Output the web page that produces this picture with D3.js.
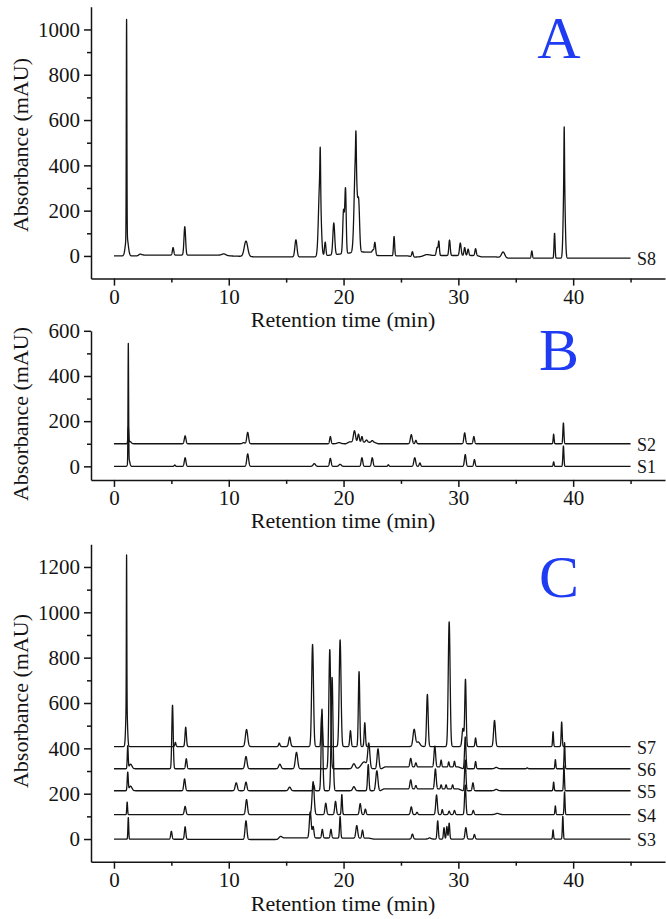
<!DOCTYPE html>
<html><head><meta charset="utf-8">
<script src="https://cdn.jsdelivr.net/npm/d3@7"></script>
<style>
html,body{margin:0;padding:0;background:#fff;}
svg{display:block;}
</style></head><body>
<svg id="chart" width="666" height="919"></svg>
<script>
// ---------------- data ----------------
const xTickValues = [0, 10, 20, 30, 40];
const xMinorTicks = [5, 15, 25, 35, 45];
const yTicksA = [0, 200, 400, 600, 800, 1000];
const yMinorA = [100, 300, 500, 700, 900];
const yTicksB = [0, 200, 400, 600];
const yMinorB = [100, 300, 500];
const yTicksC = [0, 200, 400, 600, 800, 1000, 1200];
const yMinorC = [100, 300, 500, 700, 900, 1100];
const panelLetters = ["A", "B", "C"];
const xTitle = "Retention time (min)";
const yTitle = "Absorbance (mAU)";
const namesA = ["S8"];
const namesB = ["S1", "S2"];
const namesC = ["S3", "S4", "S5", "S6", "S7"];
const offsetsA = [0];
const offsetsB = [0, 100];
const offsetsC = [0, 108, 213, 310, 408];

// peaks: [retention time (min), height (mAU), width sigma (min)]
const peaksS8 = [
  [1.1, 960, 0.025], [1.12, 85, 0.12], [2.27, 7, 0.12], [5.15, 33, 0.06], [6.17, 125, 0.07],
  [9.58, 6, 0.15], [11.5, 68, 0.15], [15.85, 75, 0.09], [17.93, 330, 0.11], [17.97, 170, 0.03],
  [18.4, 60, 0.06], [19.15, 140, 0.08], [20.0, 190, 0.07], [20.17, 280, 0.06],
  [21.05, 420, 0.12], [21.08, 125, 0.03], [21.32, 200, 0.08], [22.55, 10, 0.06], [22.73, 50, 0.06],
  [24.4, 85, 0.05], [26.0, 22, 0.06], [27.2, 7, 0.25], [28.15, 35, 0.07], [28.3, 60, 0.05],
  [29.23, 68, 0.06], [30.17, 55, 0.07], [30.55, 35, 0.06], [30.85, 28, 0.06], [31.5, 30, 0.06],
  [33.9, 25, 0.14], [36.4, 32, 0.05], [38.38, 110, 0.045], [39.22, 360, 0.08], [39.22, 220, 0.025]
];
const baselineS8 = [[0,0],[2.2,0],[2.5,4],[9.4,4],[10.2,0],[12.3,-4],[17.5,-4],[21.4,18],[22.6,16],[22.9,2],[25.6,0],[26.2,-5],[27.0,-3],[27.6,2],[31.6,2],[32,-4],[33.2,-4],[34.4,-10],[45,-10]];

const peaksS1 = [
  [1.25, 520, 0.025], [1.3, 30, 0.08], [5.3, 6, 0.05], [6.2, 38, 0.07], [11.65, 55, 0.08],
  [17.45, 12, 0.1], [18.85, 35, 0.07], [19.7, 9, 0.1], [21.6, 38, 0.07], [22.5, 38, 0.07],
  [23.9, 7, 0.05], [26.2, 38, 0.08], [26.65, 15, 0.06], [30.6, 52, 0.07], [31.4, 30, 0.06],
  [38.3, 20, 0.04], [39.15, 90, 0.045]
];
const baselineS1 = [[0,0],[45,0]];
const peaksS2 = [
  [1.25, 70, 0.035], [1.4, 10, 0.1], [6.2, 35, 0.07], [11.3, 5, 0.1], [11.65, 50, 0.08],
  [18.85, 32, 0.06], [19.6, 5, 0.15], [20.95, 50, 0.09], [21.3, 35, 0.07], [21.6, 25, 0.06],
  [22.0, 10, 0.08], [22.5, 8, 0.08], [25.9, 40, 0.08], [26.3, 15, 0.06], [30.55, 48, 0.07],
  [31.35, 32, 0.06], [38.3, 42, 0.04], [39.15, 92, 0.045]
];
const baselineS2 = [[0,0],[20.2,0],[20.5,8],[22.7,6],[23,0],[45,0]];

const peaksS3 = [
  [1.25, 95, 0.035], [5.0, 35, 0.06], [6.2, 55, 0.06], [11.5, 82, 0.08], [14.5, 8, 0.12],
  [17.1, 115, 0.08], [17.35, 50, 0.07], [18.15, 38, 0.06], [18.9, 38, 0.06], [19.7, 95, 0.05],
  [21.15, 55, 0.08], [21.65, 35, 0.06], [26.0, 22, 0.07], [27.5, 5, 0.1], [28.2, 80, 0.055],
  [28.75, 50, 0.05], [29.0, 55, 0.05], [29.2, 70, 0.05], [30.65, 50, 0.07], [31.4, 20, 0.06],
  [38.25, 40, 0.04], [39.1, 100, 0.04]
];
const baselineS3 = [[0,0],[12,-2],[14.2,-2],[14.6,5],[22.2,4],[22.6,0],[45,0]];
const peaksS4 = [
  [1.15, 55, 0.035], [6.2, 36, 0.07], [11.55, 66, 0.08], [17.35, 145, 0.09], [18.45, 50, 0.07],
  [19.3, 58, 0.07], [19.85, 88, 0.045], [21.45, 48, 0.07], [21.9, 24, 0.06], [25.9, 34, 0.07],
  [26.4, 10, 0.06], [28.1, 86, 0.07], [28.6, 22, 0.05], [29.2, 15, 0.06], [29.66, 18, 0.06],
  [30.6, 130, 0.06], [31.3, 18, 0.06], [33.4, 5, 0.15], [38.45, 38, 0.04], [39.25, 100, 0.04]
];
const baselineS4 = [[0,0],[45,0]];
const peaksS5 = [
  [1.2, 80, 0.045], [1.45, 20, 0.12], [6.15, 52, 0.07], [10.65, 35, 0.09], [11.5, 38, 0.08],
  [15.3, 16, 0.1], [17.4, 25, 0.06], [18.12, 360, 0.07], [19.0, 500, 0.08], [20.9, 18, 0.1],
  [22.15, 115, 0.06], [22.9, 88, 0.09], [25.85, 40, 0.07], [26.3, 15, 0.06], [28.0, 88, 0.07],
  [28.5, 18, 0.05], [28.93, 18, 0.05], [29.5, 18, 0.05], [30.6, 135, 0.06], [31.27, 35, 0.06],
  [33.3, 6, 0.12], [38.3, 38, 0.04], [39.2, 110, 0.04]
];
const baselineS5 = [[0,0],[23.2,0],[23.5,8],[30,8],[30.4,0],[45,0]];
const peaksS6 = [
  [1.2, 100, 0.04], [1.45, 20, 0.12], [5.1, 280, 0.06], [6.3, 44, 0.06], [11.5, 54, 0.09],
  [14.45, 20, 0.1], [15.9, 72, 0.1], [18.8, 525, 0.08], [20.9, 22, 0.12], [21.8, 30, 0.25],
  [22.2, 105, 0.09], [23.0, 88, 0.08], [25.85, 38, 0.07], [26.3, 18, 0.06], [27.95, 92, 0.07],
  [28.5, 30, 0.05], [29.16, 22, 0.05], [29.66, 25, 0.05], [30.6, 140, 0.06], [31.5, 32, 0.05],
  [33.3, 6, 0.12], [36.0, 4, 0.05], [38.45, 40, 0.04], [39.25, 115, 0.04]
];
const baselineS6 = [[0,0],[23.3,0],[23.6,8],[30,8],[30.4,0],[45,0]];
const peaksS7 = [
  [1.1, 650, 0.02], [1.1, 195, 0.07], [5.35, 18, 0.05], [6.25, 85, 0.06], [11.55, 75, 0.1],
  [14.4, 15, 0.06], [15.3, 42, 0.08], [17.3, 450, 0.08], [18.1, 140, 0.06], [19.7, 470, 0.08],
  [20.6, 70, 0.06], [21.35, 330, 0.06], [21.85, 105, 0.055], [26.15, 75, 0.1], [26.5, 20, 0.15],
  [27.3, 230, 0.07], [29.2, 550, 0.08], [30.4, 80, 0.08], [30.62, 295, 0.06], [31.5, 38, 0.05],
  [33.15, 115, 0.08], [38.25, 65, 0.04], [39.0, 108, 0.045]
];
const baselineS7 = [[0,0],[45,0]];

const runStart = 0, runEnd = 45;

// ---------------- drawing ----------------
const FONT = "'Liberation Serif'";
const svg = d3.select("#chart");
const ink = "#141414";
const xRange = [91, 665];
const x = d3.scaleLinear().domain([-2, 48]).range(xRange);

const panels = [
  { letter: panelLetters[0], dom: [-100, 1100], rng: [278.6, 6.8], ticks: yTicksA, minor: yMinorA,
    names: namesA, offsets: offsetsA, peaks: [peaksS8], bases: [baselineS8], letterY: 58, yTitleY: 145, titleGap: 48 },
  { letter: panelLetters[1], dom: [-60, 600], rng: [479.9, 330.8], ticks: yTicksB, minor: yMinorB,
    names: namesB, offsets: offsetsB, peaks: [peaksS1, peaksS2], bases: [baselineS1, baselineS2], letterY: 370, yTitleY: 414, titleGap: 48 },
  { letter: panelLetters[2], dom: [-100, 1300], rng: [861.7, 544.3], ticks: yTicksC, minor: yMinorC,
    names: namesC, offsets: offsetsC, peaks: [peaksS3, peaksS4, peaksS5, peaksS6, peaksS7],
    bases: [baselineS3, baselineS4, baselineS5, baselineS6, baselineS7], letterY: 597, yTitleY: 701, titleGap: 49 }
];

function buildTrace(peaks, base, offset) {
  const bl = d3.scaleLinear().domain(base.map(d => d[0])).range(base.map(d => d[1])).clamp(true);
  const ts = d3.range(runStart, runEnd + 1e-9, 0.005).concat(peaks.map(p => p[0]));
  ts.sort((a, b) => a - b);
  return ts.map(t => {
    let v = offset + bl(t);
    for (const [rt, h, s] of peaks) {
      const z = (t - rt) / s;
      if (Math.abs(z) < 8) v += h * Math.exp(-0.5 * z * z);
    }
    return [t, v];
  });
}

function serif(sel, size) {
  return sel.style("font-family", FONT).style("font-size", size + "px");
}

panels.forEach(p => {
  const y = d3.scaleLinear().domain(p.dom).range(p.rng);
  const g = svg.append("g");

  const line = d3.line().x(d => x(d[0])).y(d => y(d[1]));
  p.peaks.forEach((pk, i) => {
    const data = buildTrace(pk, p.bases[i], p.offsets[i]);
    g.append("path").datum(data).attr("d", line)
      .attr("fill", "none").attr("stroke", ink).attr("stroke-width", 1.3)
      .attr("stroke-linejoin", "round");
    const last = data[data.length - 1];
    serif(g.append("text").attr("x", 637).attr("y", y(last[1]) + 1)
      .attr("dominant-baseline", "central").attr("fill", ink), 18).text(p.names[i]);
  });

  const yAxisPos = p.rng[0];
  const xa = g.append("g").attr("transform", `translate(0,${yAxisPos})`)
    .call(d3.axisBottom(x).tickValues(xTickValues).tickSize(7).tickSizeOuter(0).tickPadding(3).tickFormat(d3.format("d")));
  const xm = g.append("g").attr("transform", `translate(0,${yAxisPos})`)
    .call(d3.axisBottom(x).tickValues(xMinorTicks).tickSize(4).tickSizeOuter(0).tickFormat(""));
  xm.select(".domain").remove();

  const ya = g.append("g").attr("transform", `translate(${xRange[0]},0)`)
    .call(d3.axisLeft(y).tickValues(p.ticks).tickSize(7).tickSizeOuter(0).tickPadding(4).tickFormat(d3.format("d")));
  const ym = g.append("g").attr("transform", `translate(${xRange[0]},0)`)
    .call(d3.axisLeft(y).tickValues(p.minor).tickSize(4).tickSizeOuter(0).tickFormat(""));
  ym.select(".domain").remove();

  [xa, xm, ya, ym].forEach(a => {
    a.attr("font-family", null).attr("font-size", null);
    a.selectAll("path,line").attr("stroke", ink).attr("stroke-width", 1.5);
    serif(a.selectAll("text").attr("fill", ink), 21);
  });

  serif(g.append("text").attr("x", 343).attr("y", yAxisPos + p.titleGap)
    .attr("text-anchor", "middle").attr("fill", ink), 22).text(xTitle);
  serif(g.append("text").attr("transform", `translate(20,${p.yTitleY}) rotate(-90)`)
    .attr("text-anchor", "middle").attr("dominant-baseline", "central")
    .attr("fill", ink), 22).text(yTitle);

  serif(g.append("text").attr("x", 559).attr("y", p.letterY).attr("text-anchor", "middle")
    .attr("fill", "#1f3cf2"), 60).text(p.letter);
});
</script>
</body></html>
